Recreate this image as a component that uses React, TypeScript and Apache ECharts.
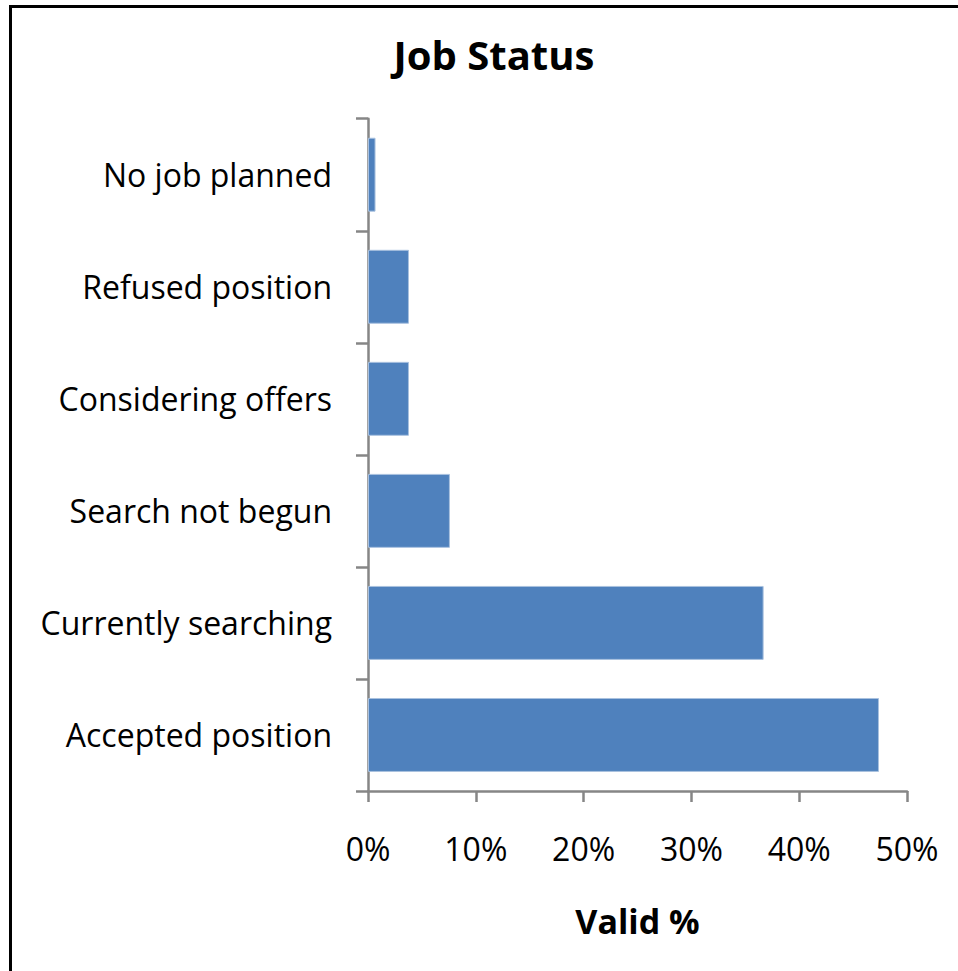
import React, { useEffect, useRef } from "react";
import * as echarts from "echarts";

const categories = [
  "Accepted position",
  "Currently searching",
  "Search not begun",
  "Considering offers",
  "Refused position",
  "No job planned",
];
const validPercent = [47.4, 36.7, 7.6, 3.8, 3.8, 0.7];
const xTicks = { min: 0, max: 50, interval: 10 };

const FONT = "'Open Sans', 'Noto Sans', sans-serif";

export default function App() {
  const ref = useRef<HTMLDivElement>(null);
  useEffect(() => {
    if (!ref.current) return;
    const chart = echarts.init(ref.current, null, { renderer: "svg" });
    chart.setOption({
      animation: false,
      backgroundColor: "#ffffff",
      title: {
        text: "Job Status",
        left: 489,
        top: 29,
        textAlign: "center",
        textStyle: { fontFamily: FONT, fontSize: 40, fontWeight: "bold", color: "#000" },
      },
      graphic: [
        {
          type: "rect",
          shape: { x: 10.5, y: 6.5, width: 2000, height: 2000 },
          style: { fill: "none", stroke: "#000", lineWidth: 3 },
          silent: true,
        },
      ],
      grid: { left: 368, right: 51, top: 118.7, bottom: 180 },
      xAxis: {
        type: "value",
        min: xTicks.min,
        max: xTicks.max,
        interval: xTicks.interval,
        name: "Valid %",
        nameLocation: "middle",
        nameGap: 113,
        nameTextStyle: { fontFamily: FONT, fontSize: 34, fontWeight: "bold", color: "#000" },
        axisLine: { show: true, lineStyle: { color: "#868686", width: 2.5 } },
        axisTick: { show: true, length: 11, lineStyle: { color: "#868686", width: 2.5 } },
        splitLine: { show: false },
        axisLabel: {
          formatter: "{value}%",
          margin: 41,
          fontFamily: FONT,
          fontSize: 32,
          color: "#000",
        },
      },
      yAxis: {
        type: "category",
        data: categories,
        axisLine: { show: true, lineStyle: { color: "#868686", width: 2.5 } },
        axisTick: { show: true, length: 12, lineStyle: { color: "#868686", width: 2.5 } },
        axisLabel: { margin: 36, fontFamily: FONT, fontSize: 32, color: "#000" },
      },
      series: [
        {
          type: "bar",
          data: validPercent,
          barCategoryGap: "34%",
          itemStyle: { color: "#4F81BD", borderColor: "#A9C1DF", borderWidth: 1 },
        },
      ],
    });
    return () => chart.dispose();
  }, []);
  return (
    <div
      ref={ref}
      style={{ position: "fixed", left: 0, top: 0, width: 958, height: 971 }}
    />
  );
}
